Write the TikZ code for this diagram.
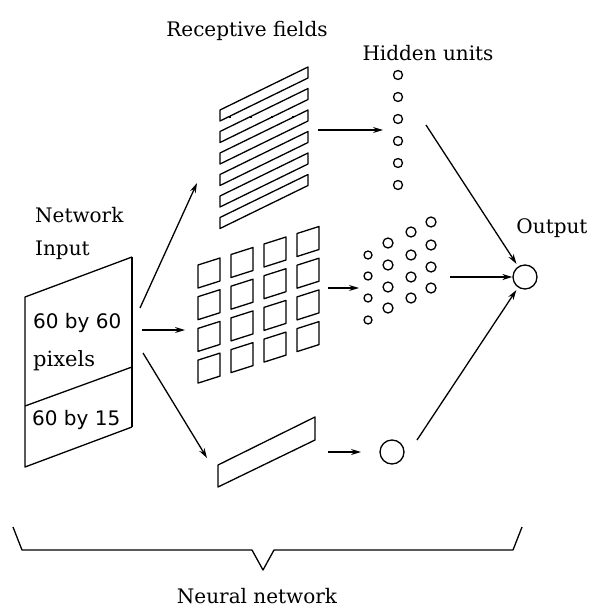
\documentclass[tikz,border=0pt]{standalone}
\usepackage{fontspec}
\newfontfamily\numfont{DejaVu Sans}
\newfontfamily\lblfont{DejaVu Serif}
\usetikzlibrary{arrows.meta}
\begin{document}
\begin{tikzpicture}[x=1pt,y=-1pt,
  ln/.style={line width=1.3pt, line join=round},
  arr/.style={ln, -{Stealth[length=10pt,width=6pt]}},
  lbl/.style={font=\lblfont\fontsize{20}{24}\selectfont, inner sep=0pt},
  num/.style={font=\numfont\fontsize{20}{24}\selectfont, inner sep=0pt},
  unit/.style={circle, draw, line width=1.3pt, inner sep=0pt},
]
\useasboundingbox (0,0) rectangle (590,607);

% ---- labels ----
\node[lbl, anchor=base] (lrf) at (247,37) {Receptive fields};
\node[lbl, anchor=base] (lhu) at (428,61) {Hidden units};
\node[lbl, anchor=base] (lout) at (552,233) {Output};
\node[lbl, anchor=base] (lnn) at (257,603) {Neural network};
\node[lbl, anchor=base west] (lnet) at (35,222) {Network};
\node[lbl, anchor=base west] (linp) at (35,255) {Input};

% ---- input image ----
\draw[ln] (132,257) -- (25,297) -- (25,467) -- (132,427);
\draw[line width=2.2pt] (132,257) -- (132,427);
\draw[ln] (25,406) -- (132,367);
\node[num, anchor=base west] (t1) at (33,328) {60 by 60};
\node[lbl, anchor=base west, font=\lblfont\fontsize{21}{24}\selectfont] (t2) at (33,366) {pixels};
\node[num, anchor=base west] (t3) at (32,425) {60 by 15};

% ---- striped receptive fields ----
\foreach \i in {0,...,5} {
  \pgfmathsetmacro{\yr}{67+21.5*\i}
  \draw[ln] (308,\yr) -- (220,\yr+43) -- (220,\yr+54) -- (308,\yr+11) -- cycle;
}
\draw[line width=2pt, dash pattern=on 2pt off 19pt] (229,117) -- (305,117);

% ---- grid of receptive fields ----
\foreach \c in {0,...,3} {
  \foreach \r in {0,...,3} {
    \pgfmathsetmacro{\gx}{198+33*\c}
    \pgfmathsetmacro{\gy}{265+31.7*\r-10.5*\c}
    \draw[ln] (\gx,\gy) -- (\gx+22,\gy-7) -- (\gx+22,\gy+16) -- (\gx,\gy+23) -- cycle;
  }
}

% ---- single long field ----
\draw[ln] (218,465) -- (315,417) -- (315,440) -- (218,487) -- cycle;

% ---- hidden units ----
\foreach \i/\y in {1/75,2/97,3/119,4/141,5/163,6/185}
  \node[unit, minimum size=9pt] (ha\i) at (398,\y) {};
\foreach \i/\y in {1/255,2/276,3/298,4/320}
  \node[unit, minimum size=8pt] (hb1\i) at (368,\y) {};
\foreach \i/\y in {1/243,2/265,3/287,4/308}
  \node[unit, minimum size=10pt] (hb2\i) at (388,\y) {};
\foreach \i/\y in {1/232,2/255,3/277,4/298}
  \node[unit, minimum size=10pt] (hb3\i) at (411,\y) {};
\foreach \i/\y in {1/222,2/245,3/267,4/288}
  \node[unit, minimum size=10pt] (hb4\i) at (431,\y) {};
\node[unit, minimum size=24pt] (hc) at (392,452) {};

% ---- output ----
\node[unit, minimum size=24pt] (out) at (525,277) {};

% ---- connector end points ----
\coordinate (inA) at (140,308);
\coordinate (inB) at (142,330);
\coordinate (inC) at (143,353);
\coordinate (rfA) at (197,183);
\coordinate (rfB) at (185,330);
\coordinate (rfC) at (207,458);
\coordinate (sA) at (318,130);
\coordinate (eA) at (383,130);
\coordinate (sB) at (328,288);
\coordinate (eB) at (359,288);
\coordinate (sC) at (328,452);
\coordinate (eC) at (361,452);
\coordinate (oA) at (426,125);
\coordinate (oB) at (450,277);
\coordinate (oC) at (417,440);

% ---- connectors ----
\draw[arr] (inA) -- (rfA);
\draw[arr] (inB) -- (rfB);
\draw[arr] (inC) -- (rfC);
\draw[arr] (sA) -- (eA);
\draw[arr] (sB) -- (eB);
\draw[arr] (sC) -- (eC);
\draw[arr, shorten >=3pt] (oA) -- (out);
\draw[arr, line width=2pt] (oB) -- (out);
\draw[arr, shorten >=3pt] (oC) -- (out);

% ---- brace ----
\draw[ln] (13,527) -- (22,550) -- (252,550) -- (263,570) -- (274,550) -- (513,550) -- (522,527);
\end{tikzpicture}
\end{document}
